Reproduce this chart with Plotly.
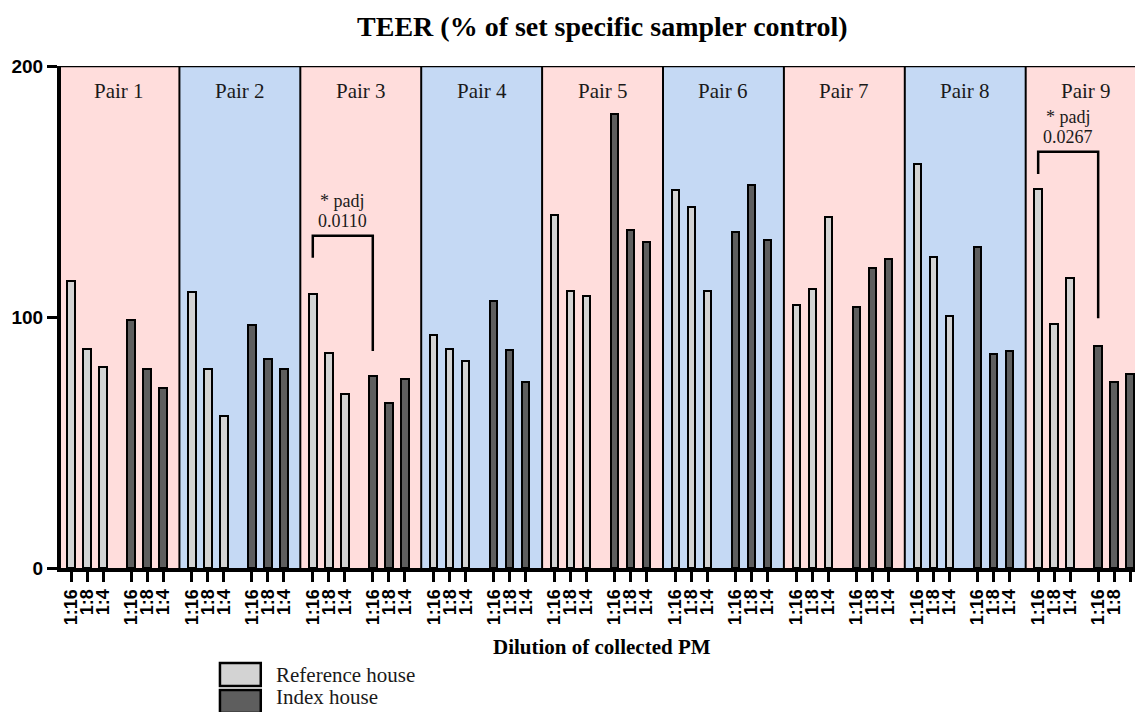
import plotly.graph_objects as go

# ---------------- data ----------------
pairs = ["Pair 1", "Pair 2", "Pair 3", "Pair 4", "Pair 5", "Pair 6", "Pair 7", "Pair 8", "Pair 9"]
dilutions = ["1:16", "1:8", "1:4"]
reference_house = [
    [114.3, 87.4, 80.1],
    [110.0, 79.4, 60.6],
    [109.2, 85.7, 69.3],
    [92.7, 87.4, 82.5],
    [140.6, 110.5, 108.5],
    [150.5, 144.0, 110.5],
    [104.9, 111.2, 139.8],
    [161.0, 123.8, 100.4],
    [151.1, 97.2, 115.7],
]
index_house = [
    [98.8, 79.2, 71.7],
    [96.7, 83.3, 79.2],
    [76.6, 65.7, 75.3],
    [106.4, 86.7, 74.1],
    [181.0, 134.5, 129.8],
    [133.7, 152.5, 130.6],
    [103.9, 119.4, 123.1],
    [127.9, 85.1, 86.6],
    [88.3, 74.0, 77.4],
]
# significance brackets: pair index, p-value text, bracket top, left leg end, right leg end
sig_pairs = [2, 8]
sig_text = ["0.0110", "0.0267"]
sig_top = [132.4, 165.8]
sig_left_end = [123.6, 157.0]
sig_right_end = [86.5, 99.5]

# ---------------- layout scheme ----------------
PAIR_STEP = 7.556      # slots per pair
GROUP_OFFSET = 3.75    # offset of index-house group inside a pair
BAR_W = 0.47
REGION_START = -0.78
REGION_W = PAIR_STEP

ref_x, ref_y, idx_x, idx_y = [], [], [], []
tickvals, ticktext = [], []
for p in range(len(pairs)):
    for d in range(len(dilutions)):
        ref_x.append(p * PAIR_STEP + d)
        ref_y.append(reference_house[p][d])
        tickvals.append(p * PAIR_STEP + d)
        ticktext.append(dilutions[d])
    for d in range(len(dilutions)):
        idx_x.append(p * PAIR_STEP + GROUP_OFFSET + d)
        idx_y.append(index_house[p][d])
        tickvals.append(p * PAIR_STEP + GROUP_OFFSET + d)
        ticktext.append(dilutions[d])

LIGHT = "#d3d3d3"
DARK = "#5e5e5e"
PINK = "#ffdddc"
BLUE = "#c5d9f4"

fig = go.Figure()
fig.add_trace(go.Bar(x=ref_x, y=ref_y, width=BAR_W, name="Reference house",
                     marker=dict(color=LIGHT, line=dict(color="black", width=2)),
                     showlegend=False))
fig.add_trace(go.Bar(x=idx_x, y=idx_y, width=BAR_W, name="Index house",
                     marker=dict(color=DARK, line=dict(color="black", width=2)),
                     showlegend=False))

shapes = []
annotations = []
serif = "Liberation Serif, Times New Roman, serif"
sans = "Liberation Sans, Arial, sans-serif"

for p, name in enumerate(pairs):
    x0 = REGION_START + p * REGION_W
    x1 = x0 + REGION_W
    shapes.append(dict(type="rect", xref="x", yref="y", x0=x0, x1=x1, y0=0, y1=200,
                       fillcolor=PINK if p % 2 == 0 else BLUE, line=dict(width=0), layer="below"))
    if p > 0:
        shapes.append(dict(type="line", xref="x", yref="y", x0=x0, x1=x0, y0=0, y1=200,
                           line=dict(color="black", width=2), layer="below"))
    annotations.append(dict(x=(x0 + x1) / 2, y=190.2, xref="x", yref="y", text=name,
                            showarrow=False, font=dict(family=serif, size=21, color="#1a1a1a"),
                            xanchor="center", yanchor="middle"))

# top frame line
shapes.append(dict(type="line", xref="paper", yref="y", x0=0, x1=1, y0=200, y1=200,
                   line=dict(color="black", width=2.5)))

# significance brackets
for i, p in enumerate(sig_pairs):
    xl = p * PAIR_STEP
    xr = p * PAIR_STEP + GROUP_OFFSET
    path = f"M {xl},{sig_left_end[i]} L {xl},{sig_top[i]} L {xr},{sig_top[i]} L {xr},{sig_right_end[i]}"
    shapes.append(dict(type="path", xref="x", yref="y", path=path,
                       line=dict(color="black", width=2.5)))
    xm = (xl + xr) / 2
    annotations.append(dict(x=xm, y=sig_top[i] + 13.7, xref="x", yref="y", text="* padj",
                            showarrow=False, font=dict(family=serif, size=18, color="#1a1a1a"),
                            xanchor="center", yanchor="middle"))
    annotations.append(dict(x=xm, y=sig_top[i] + 6.0, xref="x", yref="y", text=sig_text[i],
                            showarrow=False, font=dict(family=serif, size=18, color="#1a1a1a"),
                            xanchor="center", yanchor="middle"))

# x-axis title
annotations.append(dict(x=0.504, y=-0.157, xref="paper", yref="paper",
                        text="Dilution of collected PM", showarrow=False,
                        font=dict(family=serif, size=21, color="black", weight="bold"),
                        xanchor="center", yanchor="middle"))

# legend (manual)
legend_items = [("Reference house", LIGHT), ("Index house", DARK)]
leg_y_top = [-0.189, -0.243]
leg_y_bot = [-0.235, -0.289]
leg_text_y = [-0.213, -0.283]
leg_text_anchor = ["middle", "bottom"]
for (label, col), yt, yb, ty, ya in zip(legend_items, leg_y_top, leg_y_bot, leg_text_y, leg_text_anchor):
    shapes.append(dict(type="rect", xref="paper", yref="paper", x0=0.148, x1=0.186,
                       y0=yb, y1=yt, fillcolor=col, line=dict(color="black", width=2.5)))
    annotations.append(dict(x=0.199, y=ty, xref="paper", yref="paper", text=label,
                            showarrow=False, font=dict(family=serif, size=21, color="#1a1a1a"),
                            xanchor="left", yanchor=ya, borderpad=0))

fig.update_layout(
    width=1135, height=712, autosize=False,
    margin=dict(l=61, r=0, t=66, b=144),
    paper_bgcolor="white", plot_bgcolor="white",
    barmode="overlay", bargap=0,
    title=dict(text="TEER (% of set specific sampler control)", x=0.504, xref="paper",
               xanchor="center", y=1 - 26 / 712, yref="container", yanchor="middle",
               font=dict(family=serif, size=28, color="black", weight="bold")),
    shapes=shapes, annotations=annotations,
    xaxis=dict(range=[-0.625, 66.5], tickmode="array", tickvals=tickvals, ticktext=ticktext,
               tickangle=-90, ticks="outside", ticklen=10, tickwidth=3, tickcolor="black",
               showline=True, linewidth=4, linecolor="black", showgrid=False, zeroline=False,
               tickfont=dict(family=sans, size=18, color="black", weight="bold")),
    yaxis=dict(range=[0, 200], tickmode="array", tickvals=[0, 100, 200],
               ticks="outside", ticklen=10, tickwidth=3, tickcolor="black",
               showline=True, linewidth=4, linecolor="black", showgrid=False, zeroline=False,
               tickfont=dict(family=sans, size=19, color="black", weight="bold")),
)

fig.write_html("out.html")
